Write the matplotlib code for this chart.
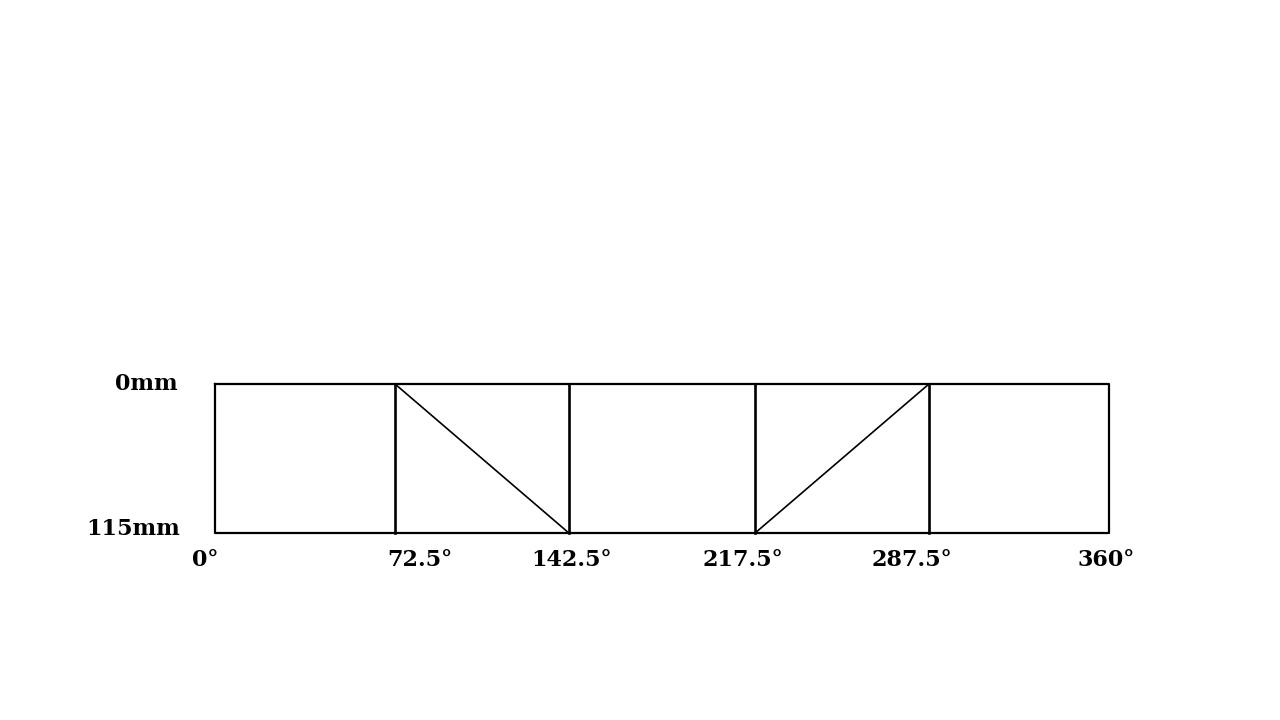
import matplotlib.pyplot as plt

# cam displacement diagram: angle (deg) vs lift (mm)
angles = [0, 72.5, 142.5, 217.5, 287.5, 360]
angle_labels = ["0°", "72.5°", "142.5°", "217.5°", "287.5°", "360°"]
# label nudges (deg) to match the hand placement in the original
label_shift = [-4, 10, 1, -5, -7, -1]
lift_max = 115
lift_labels = ["0mm", "115mm"]

# motion path segments: rise between 72.5-142.5, return between 217.5-287.5
path_x = [72.5, 142.5]
path_y = [0, 115]
path2_x = [217.5, 287.5]
path2_y = [115, 0]

fig = plt.figure(figsize=(12.8, 7.2), dpi=100)
ax = fig.add_axes([215 / 1280, 187 / 720, 894 / 1280, 149 / 720])
ax.set_xlim(0, 360)
ax.set_ylim(lift_max, 0)
ax.axis("off")

lw = 1.6
ax.plot([0, 360, 360, 0, 0], [0, 0, lift_max, lift_max, 0], color="black", lw=lw, clip_on=False)
for a in angles[1:-1]:
    ax.plot([a, a], [0, lift_max], color="black", lw=lw + 0.3, clip_on=False)
ax.plot(path_x, path_y, color="black", lw=1.2)
ax.plot(path2_x, path2_y, color="black", lw=1.2)

font = dict(family="DejaVu Serif", fontweight="bold", fontsize=16)
for a, s, lab in zip(angles, label_shift, angle_labels):
    ax.text(a + s, lift_max + 21, lab, ha="center", va="center", **font)
ax.text(-15, 0, lift_labels[0], ha="right", va="center", **font)
ax.text(-14, lift_max - 3, lift_labels[1], ha="right", va="center", **font)

fig.savefig("out.png", dpi=100)
